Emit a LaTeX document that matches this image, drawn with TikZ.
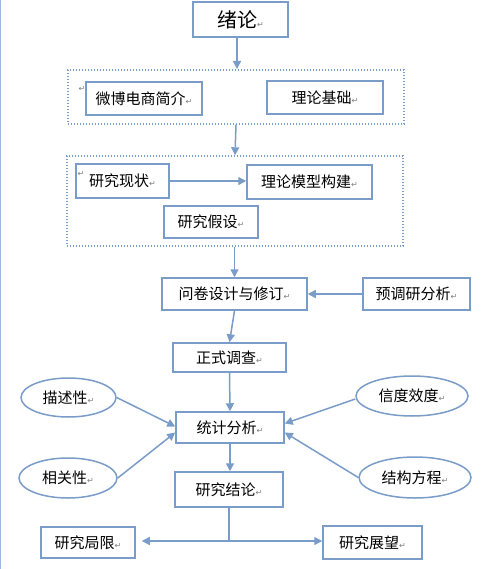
\documentclass[tikz,border=0pt]{standalone}
\usepackage{fontspec}
\setmainfont{Noto Sans CJK SC}
\newfontfamily\symfont{DejaVu Sans}
\usetikzlibrary{arrows.meta,positioning,shapes.geometric}
\definecolor{flowblue}{HTML}{7A9CC8}
\definecolor{edgeblue}{HTML}{9DB8DA}
\definecolor{markgray}{HTML}{7F7F7F}
\newcommand{\pmark}{{\symfont\fontsize{8}{8}\selectfont\color{markgray}↵}}

\begin{document}
\begin{tikzpicture}[
  x=1pt,y=-1pt,
  box/.style={draw=flowblue,line width=1.5pt,fill=white,inner sep=0pt,
    align=center,font=\fontsize{15}{18}\selectfont},
  oval/.style={box,ellipse},
  grp/.style={draw=flowblue,line width=1.4pt,dash pattern=on 1.4pt off 1.6pt},
  arrow/.style={-{Triangle[length=8pt,width=8pt]},line width=1.5pt,draw=flowblue},
  link/.style={line width=1.5pt,draw=flowblue}
]
\useasboundingbox (0,0) rectangle (493,569);
\draw[edgeblue,line width=1pt] (0.5,0) -- (0.5,569);

% top
\node[box,minimum width=95,minimum height=35,font=\fontsize{20}{22}\selectfont] (xulun) at (240.5,19.5) {绪论\pmark};

% group 1
\node[grp,minimum width=336,minimum height=54,inner sep=0pt] (grp1) at (236,97) {};
\node[box,minimum width=116,minimum height=33] (weibo) at (144,98.5) {微博电商简介\pmark};
\node[box,minimum width=116,minimum height=33] (jichu) at (325,97.5) {理论基础\pmark};
\node[inner sep=0pt] (mark1) at (82,89) {\pmark};

% group 2
\node[grp,minimum width=336,minimum height=90,inner sep=0pt] (grp2) at (235,201) {};
\node[box,minimum width=93,minimum height=34] (xianzhuang) at (122.5,181) {研究现状\pmark};
\node[box,minimum width=125,minimum height=34] (moxing) at (309.5,182) {理论模型构建\pmark};
\node[box,minimum width=94,minimum height=32] (jiashe) at (211,222) {研究假设\pmark};
\node[inner sep=0pt] (mark2) at (81,174) {\pmark};

% survey
\node[box,minimum width=145,minimum height=32] (wenjuan) at (234.5,294) {问卷设计与修订\pmark};
\node[box,minimum width=107,minimum height=32] (yudiaoyan) at (416.5,294) {预调研分析\pmark};
\node[box,minimum width=113,minimum height=29] (zhengshi) at (229.5,357.5) {正式调查\pmark};

% analysis
\node[box,minimum width=108,minimum height=31] (tongji) at (230,427.5) {统计分析\pmark};
\node[oval,minimum width=95,minimum height=39] (miaoshu) at (68.5,397.5) {描述性\pmark};
\node[oval,minimum width=112,minimum height=40] (xindu) at (412,396) {信度效度\pmark};
\node[oval,minimum width=98,minimum height=40] (xiangguan) at (68,478) {相关性\pmark};
\node[oval,minimum width=112,minimum height=41] (jiegou) at (415,477.5) {结构方程\pmark};

% results
\node[box,minimum width=108,minimum height=35] (jielun) at (229,489.5) {研究结论\pmark};
\node[box,minimum width=94,minimum height=31] (juxian) at (88,542.5) {研究局限\pmark};
\node[box,minimum width=99,minimum height=33] (zhanwang) at (372.5,542.5) {研究展望\pmark};
\coordinate (split) at (229,541);

\draw[arrow] (xulun.south -| 237,0) -- (237,69);
\draw[arrow] (grp1.south) -- (grp2.north);
\draw[arrow] (xianzhuang.east) -- (xianzhuang.east -| moxing.west);
\draw[arrow] (grp2.south -| wenjuan.north) -- (wenjuan.north);
\draw[arrow] (yudiaoyan) -- (wenjuan);
\draw[arrow] (wenjuan.south) -- (zhengshi.north);
\draw[arrow] (zhengshi.south) -- (tongji.north);
\draw[arrow] (miaoshu.east) -- ([yshift=1pt]tongji.west);
\draw[arrow] (xiangguan.east) -- ([yshift=-5pt]tongji.west);
\draw[arrow] ([yshift=-3pt]xindu.west) -- ([yshift=4pt]tongji.east);
\draw[arrow] (jiegou.west) -- ([yshift=-5pt]tongji.east);
\draw[arrow] (tongji.south) -- (tongji.south |- jielun.north);
\draw[link] (jielun.south) -- (split);
\draw[arrow,shorten >=6pt] (split) -- (split -| juxian.east);
\draw[arrow] (split) -- (split -| zhanwang.west);
\end{tikzpicture}
\end{document}
